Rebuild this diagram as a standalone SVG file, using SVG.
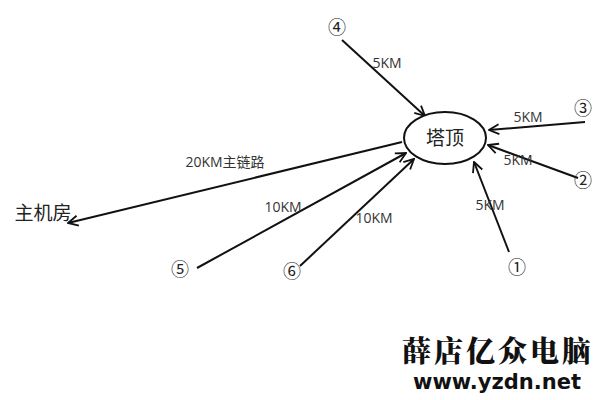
<svg xmlns="http://www.w3.org/2000/svg" width="600" height="400" viewBox="0 0 600 400">
<style>
.t{font-family:"Open Sans","Noto Sans CJK SC",sans-serif;fill:#333;font-size:14px;text-anchor:middle}
.n{font-family:"Noto Sans CJK SC","DejaVu Sans",sans-serif;fill:#222;font-size:18px;text-anchor:middle}
.c{stroke:#111;stroke-width:2;fill:none;marker-end:url(#a)}
</style>
<defs>
<marker id="a" viewBox="0 0 12 12" refX="11" refY="6" markerWidth="12" markerHeight="12" markerUnits="userSpaceOnUse" orient="auto">
<path d="M1,1 L11,6 L1,11" fill="none" stroke="#111" stroke-width="1.8"/>
</marker>
</defs>
<rect width="600" height="400" fill="#fff"/>
<g id="connectors">
<line class="c" x1="342" y1="40" x2="425" y2="116"/>
<line class="c" x1="585" y1="122" x2="489" y2="130"/>
<line class="c" x1="578" y1="178" x2="488" y2="145"/>
<line class="c" x1="509" y1="252" x2="474" y2="162"/>
<line class="c" x1="402" y1="142" x2="68" y2="223"/>
<line class="c" x1="197" y1="268" x2="406" y2="153"/>
<line class="c" x1="300" y1="266" x2="414" y2="159"/>
<text class="t" x="387" y="68">5KM</text>
<text class="t" x="528" y="122">5KM</text>
<text class="t" x="518" y="165">5KM</text>
<text class="t" x="490" y="210">5KM</text>
<text class="t" x="225" y="167">20KM主链路</text>
<text class="t" x="283" y="212">10KM</text>
<text class="t" x="374" y="223">10KM</text>
</g>
<g id="tower">
<ellipse cx="445" cy="138" rx="41" ry="26" fill="#fff" stroke="#111" stroke-width="2"/>
<text x="445" y="145" font-family="Noto Sans CJK SC,sans-serif" font-size="19" fill="#222" text-anchor="middle">塔顶</text>
</g>
<g id="host"><text x="43" y="220" font-family="Noto Sans CJK SC,sans-serif" font-size="19" fill="#222" text-anchor="middle">主机房</text></g>
<g id="n1"><text class="n" x="517" y="274">①</text></g>
<g id="n2"><text class="n" x="583" y="187">②</text></g>
<g id="n3"><text class="n" x="583" y="115">③</text></g>
<g id="n4"><text class="n" x="337" y="34">④</text></g>
<g id="n5"><text class="n" x="180" y="276">⑤</text></g>
<g id="n6"><text class="n" x="292" y="278">⑥</text></g>
<g id="watermark">
<text x="498" y="362" font-family="Noto Serif CJK SC,Noto Sans CJK SC,serif" font-weight="900" font-size="29" fill="#111" text-anchor="middle" letter-spacing="3">薛店亿众电脑</text>
<text x="497" y="389" font-family="DejaVu Sans,sans-serif" font-weight="bold" font-size="21" fill="#111" text-anchor="middle">www.yzdn.net</text>
</g>
</svg>
